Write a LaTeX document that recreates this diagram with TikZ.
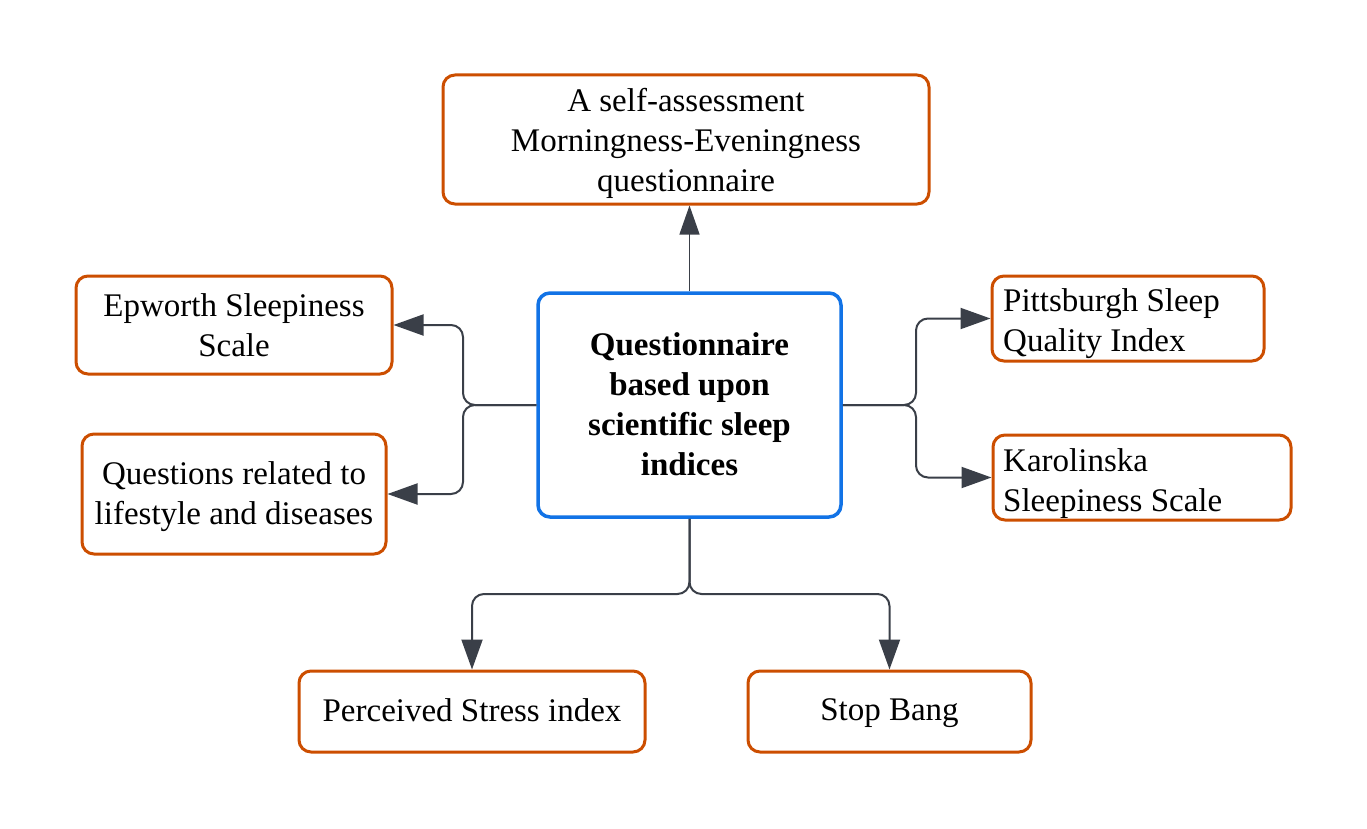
\documentclass[tikz,border=0pt]{standalone}
\usepackage{fontspec}
\setmainfont{Liberation Serif}
\usetikzlibrary{arrows.meta}
\definecolor{boxorange}{HTML}{CC4E00}
\definecolor{boxblue}{HTML}{1273E6}
\definecolor{conncol}{HTML}{3A3F48}
\begin{document}
\begin{tikzpicture}[x=1pt,y=-1pt,
  leaf/.style={draw=boxorange,line width=3pt,rounded corners=12pt,fill=white,
    inner sep=0pt,align=center,font=\fontsize{33}{40}\selectfont},
  hub/.style={draw=boxblue,line width=3.5pt,rounded corners=12pt,fill=white,
    inner sep=0pt,align=center,font=\fontsize{33}{40}\selectfont\bfseries},
  conn/.style={draw=conncol,line width=2pt,rounded corners=12pt,
    -{Triangle[length=30pt,width=21pt]}},
  txt/.style={inner sep=0pt,align=left,font=\fontsize{33}{40}\selectfont},
  ctxt/.style={inner sep=0pt,align=center,font=\fontsize{33}{40}\selectfont}
]
\useasboundingbox (0,0) rectangle (1367,829);

\node[hub,minimum width=303pt,minimum height=224pt] (c) at (689.5,405) {};
\node[ctxt,font=\fontsize{33}{40}\selectfont\bfseries] (ct) at (689.5,404)
  {Questionnaire\\based upon\\scientific sleep\\indices};

\node[leaf,minimum width=486pt,minimum height=129pt] (top) at (686,139.5) {};
\node[ctxt] (topt) at (686,143.5)
  {A self-assessment\\Morningness-Eveningness\\questionnaire};

\node[leaf,minimum width=316pt,minimum height=98pt] (ep) at (234,325)
  {Epworth Sleepiness\\Scale};
\node[leaf,minimum width=304pt,minimum height=120pt] (qu) at (234,494) {};
\node[ctxt] (qut) at (234,497)
  {Questions related to\\lifestyle and diseases};

\node[leaf,minimum width=272pt,minimum height=85pt] (pi) at (1128,318.5) {};
\node[txt,anchor=west] (pit) at (1003,324) {Pittsburgh Sleep\\Quality Index};
\node[leaf,minimum width=298pt,minimum height=85pt] (ka) at (1142,477.5) {};
\node[txt,anchor=west] (kat) at (1003,484) {Karolinska\\Sleepiness Scale};

\node[leaf,minimum width=346pt,minimum height=81pt] (ps) at (472,711.5) {};
\node[ctxt] (pst) at (472,710) {Perceived Stress index};
\node[leaf,minimum width=283pt,minimum height=81pt] (sb) at (889.5,711.5) {};
\node[ctxt] (sbt) at (889.5,713) {Stop Bang};

\coordinate (jl) at (463,405);
\coordinate (jr) at (916,405);
\coordinate (jb) at (689.5,594);

\draw[conn,line width=1.3pt,-{Triangle[length=29pt,width=20pt]}]
  (c.north) -- (c.north |- top.south);
\draw[conn] (c.west) -- (jl) |- (ep.east);
\draw[conn] (c.west) -- (jl) |- (qu.east);
\draw[conn] (c.east) -- (jr) |- (pi.west);
\draw[conn] (c.east) -- (jr) |- (ka.west);
\draw[conn] (c.south) -- (jb) -| (ps.north);
\draw[conn] (c.south) -- (jb) -| (sb.north);
\end{tikzpicture}
\end{document}
